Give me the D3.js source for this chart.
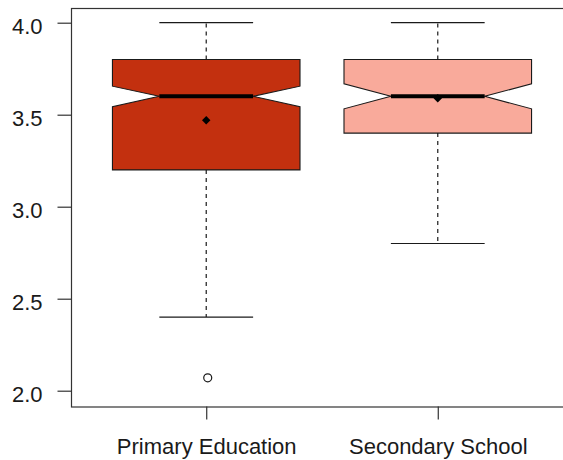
<!DOCTYPE html>
<html>
<head>
<meta charset="utf-8">
<script src="https://cdn.jsdelivr.net/npm/d3@7"></script>
<style>
  html, body { margin: 0; padding: 0; background: #fff; }
  svg { display: block; font-family: "Liberation Sans", Arial, sans-serif; }
</style>
</head>
<body>
<svg id="chart" width="563" height="460"></svg>
<script>
// Box-plot summaries for each group
const categories = ["Primary Education", "Secondary School"];
const lowerWhisker = [2.4, 2.8];
const q1 = [3.2, 3.4];
const median = [3.6, 3.6];
const q3 = [3.8, 3.8];
const upperWhisker = [4.0, 4.0];
const notchLow = [3.543, 3.532];
const notchHigh = [3.655, 3.668];
const means = [3.47, 3.59];
const outliers = [[2.07], []];
const fills = ["#C3300F", "#F9AA9B"];
const yTicks = [2.0, 2.5, 3.0, 3.5, 4.0];

const width = 563, height = 460;
const plotTop = 8, plotBottom = 406.5, plotLeft = 71, plotRight = 573;

const svg = d3.select("#chart");

const x = d3.scaleLinear().domain([0.416, 2.584]).range([plotLeft, plotRight]);
const y = d3.scaleLinear().domain([2, 4]).range([390.7, 22.7]);

const boxHalf = (x(1.405) - x(1));   // half of the box width
const capHalf = boxHalf / 2;         // whisker caps and notch waist

const ink = "#1a1a1a";
const labelSize = 22;

// plot frame
svg.append("rect")
  .attr("x", plotLeft + 0.5).attr("y", plotTop + 0.5)
  .attr("width", plotRight - plotLeft).attr("height", plotBottom - plotTop)
  .attr("fill", "none").attr("stroke", "#333").attr("stroke-width", 1.2);

// y axis
const yAxis = d3.axisLeft(y).tickValues(yTicks).tickFormat(d3.format(".1f")).tickSize(14).tickPadding(15);
const gy = svg.append("g").attr("transform", `translate(${plotLeft + 0.5},0)`).call(yAxis);
gy.select(".domain").remove();
gy.selectAll(".tick line").attr("stroke", "#333").attr("stroke-width", 1.2);
gy.selectAll(".tick text").attr("font-size", labelSize).attr("fill", ink).attr("dy", "0.47em")
  .attr("font-family", "'Liberation Sans', Arial, sans-serif");

// x axis
const xAxis = d3.axisBottom(x).tickValues([1, 2]).tickFormat((d) => categories[d - 1]).tickSize(13).tickPadding(19);
const gx = svg.append("g").attr("transform", `translate(0,${plotBottom})`).call(xAxis);
gx.select(".domain").remove();
gx.selectAll(".tick line").attr("stroke", "#333").attr("stroke-width", 1.2);
gx.selectAll(".tick text").attr("font-size", labelSize).attr("fill", ink)
  .attr("font-family", "'Liberation Sans', Arial, sans-serif");

// boxes
categories.forEach((c, i) => {
  const cx = x(i + 1);
  const g = svg.append("g");

  // dashed whiskers
  g.append("line").attr("x1", cx).attr("x2", cx)
    .attr("y1", y(q3[i])).attr("y2", y(upperWhisker[i]))
    .attr("stroke", ink).attr("stroke-width", 1.2).attr("stroke-dasharray", "4,4");
  g.append("line").attr("x1", cx).attr("x2", cx)
    .attr("y1", y(q1[i])).attr("y2", y(lowerWhisker[i]))
    .attr("stroke", ink).attr("stroke-width", 1.2).attr("stroke-dasharray", "4,4");

  // whisker caps
  [upperWhisker[i], lowerWhisker[i]].forEach((v) => {
    g.append("line").attr("x1", cx - capHalf).attr("x2", cx + capHalf)
      .attr("y1", y(v)).attr("y2", y(v))
      .attr("stroke", ink).attr("stroke-width", 1.2);
  });

  // notched box
  const pts = [
    [cx - boxHalf, y(q3[i])],
    [cx + boxHalf, y(q3[i])],
    [cx + boxHalf, y(notchHigh[i])],
    [cx + capHalf, y(median[i])],
    [cx + boxHalf, y(notchLow[i])],
    [cx + boxHalf, y(q1[i])],
    [cx - boxHalf, y(q1[i])],
    [cx - boxHalf, y(notchLow[i])],
    [cx - capHalf, y(median[i])],
    [cx - boxHalf, y(notchHigh[i])]
  ];
  g.append("path")
    .attr("d", d3.line()(pts) + "Z")
    .attr("fill", fills[i]).attr("stroke", ink).attr("stroke-width", 1.1);

  // median
  g.append("line").attr("x1", cx - capHalf).attr("x2", cx + capHalf)
    .attr("y1", y(median[i])).attr("y2", y(median[i]))
    .attr("stroke", "#000").attr("stroke-width", 4);

  // mean marker
  g.append("path")
    .attr("d", d3.symbol(d3.symbolSquare, 36)())
    .attr("transform", `translate(${cx},${y(means[i])}) rotate(45)`)
    .attr("fill", "#000");

  // outliers
  outliers[i].forEach((v) => {
    g.append("circle").attr("cx", cx + 1.5).attr("cy", y(v)).attr("r", 4)
      .attr("fill", "none").attr("stroke", ink).attr("stroke-width", 1.2);
  });
});
</script>
</body>
</html>
